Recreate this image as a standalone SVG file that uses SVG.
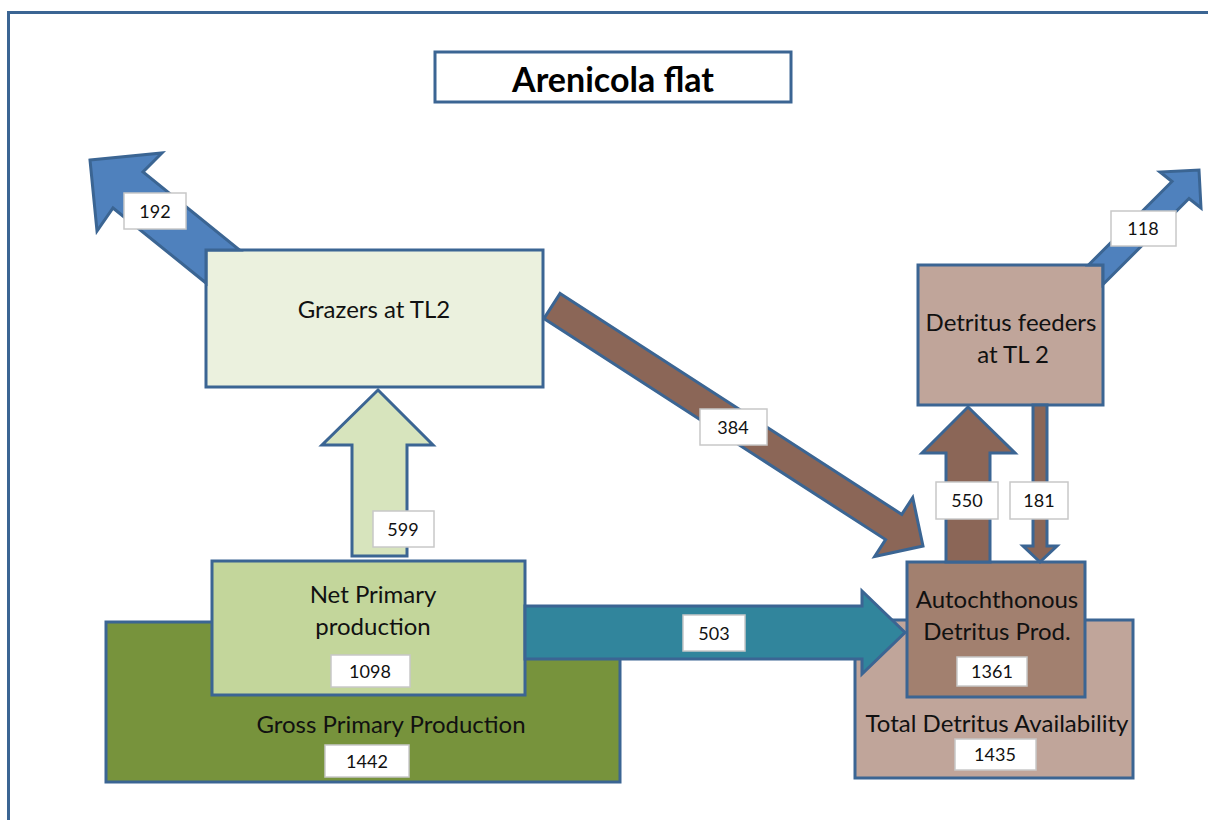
<svg xmlns="http://www.w3.org/2000/svg" width="1208" height="820" viewBox="0 0 1208 820">
<style>
.box{stroke:#3b6593;stroke-width:3}
.arr{stroke:#3b6593;stroke-width:3;stroke-linejoin:miter}
.lbl{fill:#ffffff;stroke:#c8c8c8;stroke-width:1.5}
.t{font-family:Lato,"Open Sans",sans-serif;font-size:24px;fill:#111;text-anchor:middle}
.n{font-family:Lato,"Open Sans",sans-serif;font-size:18px;fill:#111;text-anchor:middle}
</style>
<rect x="0" y="0" width="1208" height="820" fill="#ffffff"/>
<rect x="8.5" y="12.5" width="1220" height="830" fill="none" stroke="#3b6593" stroke-width="3"/>
<g id="title">
<rect x="435" y="52" width="356" height="50" fill="#ffffff" class="box"/>
<text x="613" y="92" font-family="Lato,'Open Sans',sans-serif" font-size="34" font-weight="bold" text-anchor="middle" fill="#000">Arenicola flat</text>
</g>
<g id="grazers">
<rect x="206" y="250" width="337" height="137" fill="#ebf1de" class="box"/>
<text x="374" y="318" class="t">Grazers at TL2</text>
</g>
<g id="detritus-feeders">
<rect x="918" y="265" width="185" height="140" fill="#c0a59a" class="box"/>
<text x="1011" y="331" class="t">Detritus feeders</text>
<text x="1013" y="363" class="t">at TL 2</text>
</g>
<g id="gpp">
<rect x="106" y="622" width="514" height="160" fill="#77933c" class="box"/>
<text x="391" y="733" class="t">Gross Primary Production</text>
<rect x="325" y="745" width="84" height="32" class="lbl"/>
<text x="367" y="768" class="n">1442</text>
</g>
<g id="npp">
<rect x="212" y="561" width="313" height="134" fill="#c3d69b" class="box"/>
<text x="373" y="603" class="t">Net Primary</text>
<text x="373" y="635" class="t">production</text>
<rect x="331" y="655" width="79" height="32" class="lbl"/>
<text x="370" y="678" class="n">1098</text>
</g>
<g id="total-detritus">
<rect x="855" y="620" width="278" height="158" fill="#c0a59a" class="box"/>
<text x="997" y="732" class="t">Total Detritus Availability</text>
<rect x="955" y="739" width="81" height="31" class="lbl"/>
<text x="995" y="761" class="n">1435</text>
</g>
<g id="autochthonous">
<rect x="907" y="562" width="178" height="135" fill="#a2806f" class="box"/>
<text x="997" y="608" class="t">Autochthonous</text>
<text x="997" y="640" class="t">Detritus Prod.</text>
<rect x="957" y="657" width="70" height="29" class="lbl"/>
<text x="992" y="678" class="n">1361</text>
</g>
<g id="connectors">
<polygon class="arr" fill="#4f81bd" points="90,160 162,153 143,172 239.5,250 206,250 206,283 113,208 97,231"/>
<polygon class="arr" fill="#4f81bd" points="1199,170 1201,208 1189,198.5 1103,284.5 1103,265 1088.5,265 1172,181.5 1160,172"/>
<polygon class="arr" fill="#8b6657" points="560.1,293.4 901.8,514.4 912.7,497.6 923,546 874.7,556.4 885.6,539.6 543.9,318.6"/>
<polygon class="arr" fill="#d7e4bd" points="378,390 433,445 407,445 407,556 352,556 352,445 322,445"/>
<polygon class="arr" fill="#8b6657" points="968,407 1015,453 990,453 990,562 946,562 946,453 922,453"/>
<polygon class="arr" fill="#8b6657" points="1033,405 1047,405 1047,546 1057,546 1040,562 1023,546 1033,546"/>
<polygon class="arr" fill="#31859c" points="525,606 862,606 862,591 905,632.5 862,674 862,659 525,659"/>
<rect x="124" y="193" width="62" height="36" class="lbl"/>
<text x="155" y="218" class="n">192</text>
<rect x="1111" y="211" width="65" height="35" class="lbl"/>
<text x="1143" y="235" class="n">118</text>
<rect x="700" y="409" width="67" height="36" class="lbl"/>
<text x="733" y="434" class="n">384</text>
<rect x="373" y="511" width="61" height="36" class="lbl"/>
<text x="403" y="536" class="n">599</text>
<rect x="936" y="482" width="62" height="37" class="lbl"/>
<text x="967" y="507" class="n">550</text>
<rect x="1010" y="482" width="58" height="37" class="lbl"/>
<text x="1039" y="507" class="n">181</text>
<rect x="683" y="615" width="62" height="36" class="lbl"/>
<text x="714" y="640" class="n">503</text>
</g>
</svg>
